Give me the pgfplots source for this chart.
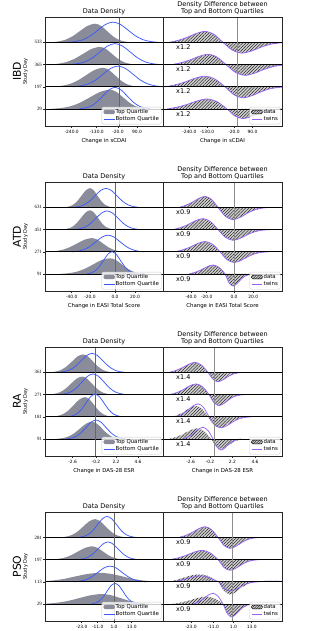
\documentclass[border=0pt]{standalone}
\usepackage{pgfplots}
\pgfplotsset{compat=1.18}
\usepackage{pgfplotstable}
\usepackage{fontspec}
\setmainfont{DejaVu Sans}
\newfontfamily\serifrm{Liberation Serif}
\usetikzlibrary{patterns.meta}

\definecolor{topgrey}{RGB}{138,141,153}
\definecolor{bottomblue}{RGB}{60,90,250}
\definecolor{twinpurple}{RGB}{150,100,245}
\definecolor{hatchgrey}{RGB}{205,205,205}

% ---------------- IBD ----------------
\pgfplotstableread[row sep=\\]{x y\\ 5 0\\ 12.5 0.8\\ 20 2.5\\ 27.5 6.1\\ 35 11.4\\ 42.5 16.5\\ 50 18.7\\ 56 16.5\\ 62 11.4\\ 68 6.1\\ 74 2.5\\ 80 0.8\\ 86 0\\}\tIBDLga
\pgfplotstableread[row sep=\\]{x y\\ 23 0\\ 30.5 0.9\\ 38 2.7\\ 45.5 6.6\\ 53 12.3\\ 60.5 17.9\\ 68 20.3\\ 75.5 17.9\\ 83 12.3\\ 90.5 6.6\\ 98 2.7\\ 105.5 0.9\\ 113 0\\}\tIBDLba
\pgfplotstableread[row sep=\\]{x y\\ 4 0\\ 12.5 0.8\\ 21 2.4\\ 29.5 5.8\\ 38 10.7\\ 46.5 15.6\\ 55 17.7\\ 61 15.6\\ 67 10.7\\ 73 5.8\\ 79 2.4\\ 85 0.8\\ 91 0\\}\tIBDLgb
\pgfplotstableread[row sep=\\]{x y\\ 25 0\\ 32.5 0.9\\ 40 2.8\\ 47.5 6.8\\ 55 12.8\\ 62.5 18.5\\ 70 21\\ 77.5 18.5\\ 85 12.8\\ 92.5 6.8\\ 100 2.8\\ 107.5 0.9\\ 115 0\\}\tIBDLbb
\pgfplotstableread[row sep=\\]{x y\\ 7 0\\ 15.5 0.8\\ 24 2.6\\ 32.5 6.2\\ 41 11.5\\ 49.5 16.8\\ 58 19\\ 64 16.8\\ 70 11.5\\ 76 6.2\\ 82 2.6\\ 88 0.8\\ 94 0\\}\tIBDLgc
\pgfplotstableread[row sep=\\]{x y\\ 28 0\\ 35.5 0.9\\ 43 2.8\\ 50.5 6.7\\ 58 12.6\\ 65.5 18.3\\ 73 20.7\\ 80.5 18.3\\ 88 12.6\\ 95.5 6.7\\ 103 2.8\\ 110.5 0.9\\ 118 0\\}\tIBDLbc
\pgfplotstableread[row sep=\\]{x y\\ 5 0\\ 15 0.9\\ 25 2.6\\ 35 6.3\\ 45 11.7\\ 55 17\\ 65 19.3\\ 71.5 17\\ 78 11.7\\ 84.5 6.3\\ 91 2.6\\ 97.5 0.9\\ 104 0\\}\tIBDLgd
\pgfplotstableread[row sep=\\]{x y\\ 34 0\\ 40 1\\ 46 2.9\\ 52 7.1\\ 58 13.2\\ 64 19.1\\ 70 21.7\\ 76 19.1\\ 82 13.2\\ 88 7.1\\ 94 2.9\\ 100 1\\ 106 0\\}\tIBDLbd
\pgfplotstableread[row sep=\\]{x y\\ 6 0\\ 15 2\\ 24 5\\ 33 8.8\\ 42 11\\ 51 8\\ 60 0\\ 69.5 -7.8\\ 79 -10.7\\ 88.5 -8.6\\ 98 -4.8\\ 107.5 -1.9\\ 117 -0.5\\ 126.5 0\\}\tIBDRa
\pgfplotstableread[row sep=\\]{x y\\ 9 0\\ 18 1.9\\ 27 4.6\\ 36 8.2\\ 45 10.3\\ 54 7.5\\ 63 0\\ 72.5 -7.8\\ 82 -10.7\\ 91.5 -8.6\\ 101 -4.8\\ 110.5 -1.9\\ 120 -0.5\\ 129.5 0\\}\tIBDRb
\pgfplotstableread[row sep=\\]{x y\\ 2 0\\ 12 1.9\\ 22 4.8\\ 32 8.5\\ 42 10.6\\ 52 7.7\\ 62 0\\ 71 -8\\ 80 -11\\ 89 -8.8\\ 98 -5\\ 107 -2\\ 116 -0.6\\ 125 0\\}\tIBDRc
\pgfplotstableread[row sep=\\]{x y\\ 4 0\\ 14 1.8\\ 24 4.5\\ 34 8\\ 44 10\\ 54 7.3\\ 64 0\\ 72 -7\\ 80 -9.6\\ 88 -7.7\\ 96 -4.3\\ 104 -1.7\\ 112 -0.5\\ 120 0\\}\tIBDRd
% ---------------- ATD ----------------
\pgfplotstableread[row sep=\\]{x y\\ 19.5 0\\ 23.8 0.9\\ 28 2.6\\ 32.3 6.3\\ 36.5 11.7\\ 40.8 17\\ 45 19.3\\ 48.8 17\\ 52.5 11.7\\ 56.3 6.3\\ 60 2.6\\ 63.8 0.9\\ 67.5 0\\}\tATDLga
\pgfplotstableread[row sep=\\]{x y\\ 28 0\\ 33.5 0.8\\ 39 2.6\\ 44.5 6.2\\ 50 11.5\\ 55.5 16.8\\ 61 19\\ 66.5 16.8\\ 72 11.5\\ 77.5 6.2\\ 83 2.6\\ 88.5 0.8\\ 94 0\\}\tATDLba
\pgfplotstableread[row sep=\\]{x y\\ 18 0\\ 22.5 0.9\\ 27 2.6\\ 31.5 6.3\\ 36 11.7\\ 40.5 17\\ 45 19.3\\ 49 17\\ 53 11.7\\ 57 6.3\\ 61 2.6\\ 65 0.9\\ 69 0\\}\tATDLgb
\pgfplotstableread[row sep=\\]{x y\\ 29 0\\ 34.5 0.8\\ 40 2.5\\ 45.5 6.1\\ 51 11.4\\ 56.5 16.5\\ 62 18.7\\ 67.5 16.5\\ 73 11.4\\ 78.5 6.1\\ 84 2.5\\ 89.5 0.8\\ 95 0\\}\tATDLbb
\pgfplotstableread[row sep=\\]{x y\\ 2 0\\ 9.5 0.6\\ 17 1.9\\ 24.5 4.5\\ 32 8.3\\ 39.5 12.1\\ 47 13.7\\ 52.5 12.1\\ 58 8.3\\ 63.5 4.5\\ 69 1.9\\ 74.5 0.6\\ 80 0\\}\tATDLgc
\pgfplotstableread[row sep=\\]{x y\\ 27 0\\ 33 0.7\\ 39 2.3\\ 45 5.4\\ 51 10.1\\ 57 14.7\\ 63 16.7\\ 69 14.7\\ 75 10.1\\ 81 5.4\\ 87 2.3\\ 93 0.7\\ 99 0\\}\tATDLbc
\pgfplotstableread[row sep=\\]{x y\\ 14 0\\ 22.5 0.7\\ 31 2.1\\ 39.5 5.1\\ 48 9.5\\ 56.5 13.9\\ 65 15.7\\ 71 13.9\\ 77 9.5\\ 83 5.1\\ 89 2.1\\ 95 0.7\\ 101 0\\}\tATDLgd
\pgfplotstableread[row sep=\\]{x y\\ 41.5 0\\ 45.8 1\\ 50 3\\ 54.3 7.3\\ 58.5 13.5\\ 62.8 19.7\\ 67 22.3\\ 71.3 19.7\\ 75.5 13.5\\ 79.8 7.3\\ 84 3\\ 88.3 1\\ 92.5 0\\}\tATDLbd
\pgfplotstableread[row sep=\\]{x y\\ 16 0\\ 22.5 2\\ 29 5\\ 35.5 8.8\\ 42 11\\ 48.5 8\\ 55 0\\ 62.5 -9\\ 70 -12.3\\ 77.5 -9.8\\ 85 -5.5\\ 92.5 -2.2\\ 100 -0.6\\ 107.5 0\\}\tATDRa
\pgfplotstableread[row sep=\\]{x y\\ 10 0\\ 17.5 2\\ 25 5\\ 32.5 8.8\\ 40 11\\ 47.5 8\\ 55 0\\ 62.5 -7.8\\ 70 -10.7\\ 77.5 -8.6\\ 85 -4.8\\ 92.5 -1.9\\ 100 -0.5\\ 107.5 0\\}\tATDRb
\pgfplotstableread[row sep=\\]{x y\\ 12 0\\ 19.5 1.9\\ 27 4.6\\ 34.5 8.2\\ 42 10.3\\ 49.5 7.5\\ 57 0\\ 64 -7.8\\ 71 -10.7\\ 78 -8.6\\ 85 -4.8\\ 92 -1.9\\ 99 -0.5\\ 106 0\\}\tATDRc
\pgfplotstableread[row sep=\\]{x y\\ 26 0\\ 32 1.6\\ 38 4.1\\ 44 7.2\\ 50 9\\ 56 6.6\\ 62 0\\ 66 -8.8\\ 70 -12\\ 74 -9.6\\ 78 -5.4\\ 82 -2.2\\ 86 -0.6\\ 90 0\\}\tATDRd
% ---------------- RA ----------------
\pgfplotstableread[row sep=\\]{x y\\ 5 0\\ 10.5 0.8\\ 16 2.4\\ 21.5 5.9\\ 27 10.9\\ 32.5 15.9\\ 38 18\\ 43 15.9\\ 48 10.9\\ 53 5.9\\ 58 2.4\\ 63 0.8\\ 68 0\\}\tRALga
\pgfplotstableread[row sep=\\]{x y\\ 14 0\\ 19.5 0.8\\ 25 2.6\\ 30.5 6.2\\ 36 11.5\\ 41.5 16.8\\ 47 19\\ 52.5 16.8\\ 58 11.5\\ 63.5 6.2\\ 69 2.6\\ 74.5 0.8\\ 80 0\\}\tRALba
\pgfplotstableread[row sep=\\]{x y\\ 4 0\\ 9.5 0.8\\ 15 2.4\\ 20.5 5.9\\ 26 10.9\\ 31.5 15.9\\ 37 18\\ 42 15.9\\ 47 10.9\\ 52 5.9\\ 57 2.4\\ 62 0.8\\ 67 0\\}\tRALgb
\pgfplotstableread[row sep=\\]{x y\\ 15 0\\ 20.5 0.9\\ 26 2.8\\ 31.5 6.7\\ 37 12.6\\ 42.5 18.3\\ 48 20.7\\ 53.5 18.3\\ 59 12.6\\ 64.5 6.7\\ 70 2.8\\ 75.5 0.9\\ 81 0\\}\tRALbb
\pgfplotstableread[row sep=\\]{x y\\ 7 0\\ 12.5 0.9\\ 18 2.7\\ 23.5 6.4\\ 29 12\\ 34.5 17.4\\ 40 19.7\\ 44.5 17.4\\ 49 12\\ 53.5 6.4\\ 58 2.7\\ 62.5 0.9\\ 67 0\\}\tRALgc
\pgfplotstableread[row sep=\\]{x y\\ 23 0\\ 27.5 1\\ 32 3.1\\ 36.5 7.4\\ 41 13.8\\ 45.5 20\\ 50 22.7\\ 54.5 20\\ 59 13.8\\ 63.5 7.4\\ 68 3.1\\ 72.5 1\\ 77 0\\}\tRALbc
\pgfplotstableread[row sep=\\]{x y\\ 11 0\\ 17 0.8\\ 23 2.3\\ 29 5.6\\ 35 10.5\\ 41 15.3\\ 47 17.3\\ 52 15.3\\ 57 10.5\\ 62 5.6\\ 67 2.3\\ 72 0.8\\ 77 0\\}\tRALgd
\pgfplotstableread[row sep=\\]{x y\\ 21 0\\ 26 0.8\\ 31 2.6\\ 36 6.2\\ 41 11.5\\ 46 16.8\\ 51 19\\ 56 16.8\\ 61 11.5\\ 66 6.2\\ 71 2.6\\ 76 0.8\\ 81 0\\}\tRALbd
\pgfplotstableread[row sep=\\]{x y\\ 6 0\\ 12.5 1.8\\ 19 4.5\\ 25.5 8\\ 32 10\\ 38.5 7.3\\ 45 0\\ 50 -6.8\\ 55 -9.3\\ 60 -7.4\\ 65 -4.2\\ 70 -1.7\\ 75 -0.5\\ 80 0\\}\tRARa
\pgfplotstableread[row sep=\\]{x y\\ 7 0\\ 13.5 1.9\\ 20 4.8\\ 26.5 8.6\\ 33 10.7\\ 39.5 7.8\\ 46 0\\ 51 -8\\ 56 -11\\ 61 -8.8\\ 66 -5\\ 71 -2\\ 76 -0.6\\ 81 0\\}\tRARb
\pgfplotstableread[row sep=\\]{x y\\ 9 0\\ 15 2\\ 21 5\\ 27 8.8\\ 33 11\\ 39 8\\ 45 0\\ 51 -8.3\\ 57 -11.3\\ 63 -9\\ 69 -5.1\\ 75 -2\\ 81 -0.6\\ 87 0\\}\tRARcd
\pgfplotstableread[row sep=\\]{x y\\ 13 0\\ 18.5 2.3\\ 24 5.9\\ 29.5 10.4\\ 35 13\\ 40.5 9.5\\ 46 0\\ 52 -8\\ 58 -11\\ 64 -8.8\\ 70 -5\\ 76 -2\\ 82 -0.6\\ 88 0\\}\tRARct
\pgfplotstableread[row sep=\\]{x y\\ 6 0\\ 13 1.9\\ 20 4.8\\ 27 8.6\\ 34 10.7\\ 41 7.8\\ 48 0\\ 53 -7.3\\ 58 -10\\ 63 -8\\ 68 -4.5\\ 73 -1.8\\ 78 -0.5\\ 83 0\\}\tRARdd
\pgfplotstableread[row sep=\\]{x y\\ 20 0\\ 25 2.1\\ 30 5.3\\ 35 9.4\\ 40 11.7\\ 45 8.5\\ 50 0\\ 54 -8\\ 58 -11\\ 62 -8.8\\ 66 -5\\ 70 -2\\ 74 -0.6\\ 78 0\\}\tRARdt
% ---------------- PSO ----------------
\pgfplotstableread[row sep=\\]{x y\\ 15.5 0\\ 21.3 0.8\\ 27 2.5\\ 32.8 6\\ 38.5 11.1\\ 44.3 16.1\\ 50 18.3\\ 55.3 16.1\\ 60.5 11.1\\ 65.8 6\\ 71 2.5\\ 76.3 0.8\\ 81.5 0\\}\tPSOLga
\pgfplotstableread[row sep=\\]{x y\\ 33.5 0\\ 38.3 0.9\\ 43 2.8\\ 47.8 6.8\\ 52.5 12.8\\ 57.3 18.5\\ 62 21\\ 66.8 18.5\\ 71.5 12.8\\ 76.3 6.8\\ 81 2.8\\ 85.8 0.9\\ 90.5 0\\}\tPSOLba
\pgfplotstableread[row sep=\\]{x y\\ 5 0\\ 12 0.6\\ 19 1.8\\ 26 4.3\\ 33 8.1\\ 40 11.7\\ 47 13.3\\ 52.5 11.7\\ 58 8.1\\ 63.5 4.3\\ 69 1.8\\ 74.5 0.6\\ 80 0\\}\tPSOLgb
\pgfplotstableread[row sep=\\]{x y\\ 33 0\\ 38 0.8\\ 43 2.4\\ 48 5.8\\ 53 10.7\\ 58 15.6\\ 63 17.7\\ 68 15.6\\ 73 10.7\\ 78 5.8\\ 83 2.4\\ 88 0.8\\ 93 0\\}\tPSOLbb
\pgfplotstableread[row sep=\\]{x y\\ -17 0\\ -5 0.4\\ 7 1.2\\ 19 2.9\\ 31 5.5\\ 43 7.9\\ 55 9\\ 66 7.9\\ 77 5.5\\ 88 2.9\\ 99 1.2\\ 110 0.4\\ 121 0\\}\tPSOLgc
\pgfplotstableread[row sep=\\]{x y\\ 29 0\\ 35 0.7\\ 41 2.1\\ 47 5.1\\ 53 9.5\\ 59 13.9\\ 65 15.7\\ 71 13.9\\ 77 9.5\\ 83 5.1\\ 89 2.1\\ 95 0.7\\ 101 0\\}\tPSOLbc
\pgfplotstableread[row sep=\\]{x y\\ -9 0\\ 2 0.4\\ 13 1.4\\ 24 3.3\\ 35 6.1\\ 46 8.8\\ 57 10\\ 66 8.8\\ 75 6.1\\ 84 3.3\\ 93 1.4\\ 102 0.4\\ 111 0\\}\tPSOLgd
\pgfplotstableread[row sep=\\]{x y\\ 46 0\\ 50 0.9\\ 54 2.8\\ 58 6.7\\ 62 12.6\\ 66 18.3\\ 70 20.7\\ 74 18.3\\ 78 12.6\\ 82 6.7\\ 86 2.8\\ 90 0.9\\ 94 0\\}\tPSOLbd
\pgfplotstableread[row sep=\\]{x y\\ 16 0\\ 22.5 1.9\\ 29 4.8\\ 35.5 8.6\\ 42 10.7\\ 48.5 7.8\\ 55 0\\ 61 -8\\ 67 -11\\ 73 -8.8\\ 79 -5\\ 85 -2\\ 91 -0.6\\ 97 0\\}\tPSORa
\pgfplotstableread[row sep=\\]{x y\\ 7 0\\ 15 1.7\\ 23 4.2\\ 31 7.4\\ 39 9.3\\ 47 6.8\\ 55 0\\ 61 -7.8\\ 67 -10.7\\ 73 -8.6\\ 79 -4.8\\ 85 -1.9\\ 91 -0.5\\ 97 0\\}\tPSORb
\pgfplotstableread[row sep=\\]{x y\\ 5 0\\ 12 1.5\\ 20 4\\ 28 6.3\\ 35 7.3\\ 42 6.8\\ 49 4\\ 55 0\\ 61 -9\\ 67 -12.7\\ 73 -10\\ 79 -5.5\\ 85 -2\\ 92 0\\ 100 0.8\\ 110 1\\ 119 0.6\\}\tPSORcd
\pgfplotstableread[row sep=\\]{x y\\ 10 0\\ 18 1.5\\ 26 3.8\\ 34 5.6\\ 40 5.7\\ 46 4\\ 52 1.5\\ 56 0\\ 61 -6.5\\ 67 -9\\ 73 -7.5\\ 79 -4\\ 86 -1.2\\ 95 0\\ 105 0.5\\ 119 0.6\\}\tPSORct
\pgfplotstableread[row sep=\\]{x y\\ 9 0\\ 17.5 1.4\\ 26 3.4\\ 34.5 6\\ 43 7.5\\ 51.5 5.5\\ 60 0\\ 64.5 -9.1\\ 69 -12.5\\ 73.5 -10\\ 78 -5.6\\ 82.5 -2.3\\ 87 -0.6\\ 91.5 0\\}\tPSORdd
\pgfplotstableread[row sep=\\]{x y\\ 30 0\\ 35 1.9\\ 40 4.8\\ 45 8.6\\ 50 10.7\\ 55 7.8\\ 60 0\\ 64.3 -9.5\\ 68.5 -13\\ 72.8 -10.4\\ 77 -5.9\\ 81.3 -2.3\\ 85.5 -0.7\\ 89.8 0\\}\tPSORdt

\newcommand{\ttl}{\fontsize{6.5}{7}\selectfont}
\newcommand{\lab}{\fontsize{5.4}{6.5}\selectfont}

\newcommand{\gfill}[2]{\addplot[fill=topgrey, draw=none, smooth, forget plot] table[x=x, y expr=\thisrow{y}+#1]{#2};}
\newcommand{\blueline}[2]{\addplot[bottomblue, line width=0.75pt, smooth, forget plot] table[x=x, y expr=\thisrow{y}+#1]{#2};}
\newcommand{\hatchfill}[2]{\addplot[fill=hatchgrey, draw=none, smooth, forget plot, postaction={pattern={Lines[angle=45,distance=2.2pt,line width=0.35pt]}, pattern color=black}] table[x=x, y expr=\thisrow{y}+#1]{#2};}
\newcommand{\twin}[2]{\addplot[twinpurple, line width=0.75pt, smooth, forget plot] table[x=x, y expr=\thisrow{y}+#1]{#2};}
\newcommand{\baseln}[1]{\addplot[black, line width=0.8pt, forget plot] coordinates {(-5,#1) (125,#1)};}
\newcommand{\vmark}[2]{\addplot[#2, line width=0.5pt, forget plot] coordinates {(#1,-17) (#1,92)};}
\newcommand{\xlab}[2]{\node[anchor=west, font=\ttl, inner sep=0pt] at (axis cs:13,#1) {#2};}

\newcommand{\leftlegend}{%
\addlegendimage{legend image code/.code={\fill[topgrey, fill opacity=1] (0pt,-1.9pt) rectangle (10.8pt,1.9pt);}}
\addlegendentry{Top Quartile}
\addlegendimage{legend image code/.code={\draw[bottomblue, line width=0.75pt, draw opacity=1] (0pt,0pt) -- (10.8pt,0pt);}}
\addlegendentry{Bottom Quartile}}
\newcommand{\rightlegend}{%
\addlegendimage{legend image code/.code={\fill[hatchgrey, fill opacity=1] (0pt,-1.9pt) rectangle (10.8pt,1.9pt); \fill[pattern={Lines[angle=45,distance=1.8pt,line width=0.35pt]}, pattern color=black, fill opacity=1] (0pt,-1.9pt) rectangle (10.8pt,1.9pt);}}
\addlegendentry{data}
\addlegendimage{legend image code/.code={\draw[twinpurple, line width=0.75pt, draw opacity=1] (0pt,0pt) -- (10.8pt,0pt);}}
\addlegendentry{twins}}

\pgfplotsset{
  ridge/.style={scale only axis, height=109pt, ymin=-17, ymax=92, xmin=0, anchor=north west,
    axis on top, axis line style={black!85, line width=0.45pt},
    every tick/.style={black!85, line width=0.45pt}, major tick length=1.9pt, tick align=outside,
    xtick pos=bottom, ytick pos=left,
    xticklabel style={font=\fontsize{4.4}{5}\selectfont, inner sep=1pt, yshift=-0.8pt},
    legend cell align=left,
    legend style={at={(1,0)}, anchor=south east, xshift=-1.6pt, yshift=1.6pt,
      font=\fontsize{5.4}{6}\selectfont, draw=black!20, line width=0.4pt, rounded corners=1.2pt,
      fill=white, fill opacity=0.8, text opacity=1, inner xsep=1.5pt, inner ysep=1.2pt,
      row sep=0.2pt, nodes={inner sep=0.8pt}}},
  leftax/.style={ridge, width=118pt, xmax=118, ytick={0,22.2,44.4,66.6},
    yticklabel style={font=\fontsize{4.9}{5.5}\serifrm, inner sep=1pt}},
  rightax/.style={ridge, width=119pt, xmax=119, ytick=\empty},
}

\begin{document}
\begin{tikzpicture}
\useasboundingbox (0pt,0pt) rectangle (314pt,631pt);

% ================= IBD =================
\begin{axis}[leftax, at={(45pt,614pt)}, xtick={26.7,51.7,73,92}, xticklabels={-240.0,-130.0,-20.0,90.0}, yticklabels={29,197,365,533}]
\gfill{66.6}{\tIBDLga}\blueline{66.6}{\tIBDLba}\baseln{66.6}
\gfill{44.4}{\tIBDLgb}\blueline{44.4}{\tIBDLbb}\baseln{44.4}
\gfill{22.2}{\tIBDLgc}\blueline{22.2}{\tIBDLbc}\baseln{22.2}
\gfill{0}{\tIBDLgd}\blueline{0}{\tIBDLbd}\baseln{0}
\vmark{74}{black!60}
\leftlegend
\end{axis}
\begin{axis}[rightax, at={(163pt,614pt)}, xtick={26.4,44.2,71,89.5}, xticklabels={-240.0,-130.0,-20.0,90.0}]
\hatchfill{66.6}{\tIBDRa}\twin{66.6}{\tIBDRa}\baseln{66.6}\xlab{61.9}{x1.2}
\hatchfill{44.4}{\tIBDRb}\twin{44.4}{\tIBDRb}\baseln{44.4}\xlab{39.7}{x1.2}
\hatchfill{22.2}{\tIBDRc}\twin{22.2}{\tIBDRc}\baseln{22.2}\xlab{17.5}{x1.2}
\hatchfill{0}{\tIBDRd}\twin{0}{\tIBDRd}\baseln{0}\xlab{-4.7}{x1.2}
\vmark{74.5}{black!45}
\rightlegend
\end{axis}

% ================= ATD =================
\begin{axis}[leftax, at={(45pt,449pt)}, xtick={26.7,45,70,90}, xticklabels={-40.0,-20.0,0.0,20.0}, yticklabels={91,271,451,631}]
\gfill{66.6}{\tATDLga}\blueline{66.6}{\tATDLba}\baseln{66.6}
\gfill{44.4}{\tATDLgb}\blueline{44.4}{\tATDLbb}\baseln{44.4}
\gfill{22.2}{\tATDLgc}\blueline{22.2}{\tATDLbc}\baseln{22.2}
\gfill{0}{\tATDLgd}\blueline{0}{\tATDLbd}\baseln{0}
\vmark{70}{black!60}
\leftlegend
\end{axis}
\begin{axis}[rightax, at={(163pt,449pt)}, xtick={28,43.7,71,90.3}, xticklabels={-40.0,-20.0,0.0,20.0}]
\hatchfill{66.6}{\tATDRa}\twin{66.6}{\tATDRa}\baseln{66.6}\xlab{61.9}{x0.9}
\hatchfill{44.4}{\tATDRb}\twin{44.4}{\tATDRb}\baseln{44.4}\xlab{39.7}{x0.9}
\hatchfill{22.2}{\tATDRc}\twin{22.2}{\tATDRc}\baseln{22.2}\xlab{17.5}{x0.9}
\hatchfill{0}{\tATDRd}\twin{0}{\tATDRd}\baseln{0}\xlab{-4.7}{x0.9}
\vmark{71}{black!45}
\rightlegend
\end{axis}

% ================= RA =================
\begin{axis}[leftax, at={(45pt,284pt)}, xtick={27.7,51,71,93}, xticklabels={-2.6,-0.2,2.2,4.6}, yticklabels={91,181,271,361}]
\gfill{66.6}{\tRALga}\blueline{66.6}{\tRALba}\baseln{66.6}
\gfill{44.4}{\tRALgb}\blueline{44.4}{\tRALbb}\baseln{44.4}
\gfill{22.2}{\tRALgc}\blueline{22.2}{\tRALbc}\baseln{22.2}
\gfill{0}{\tRALgd}\blueline{0}{\tRALbd}\baseln{0}
\vmark{50}{black!60}
\leftlegend
\end{axis}
\begin{axis}[rightax, at={(163pt,284pt)}, xtick={27.7,47,69.3,92}, xticklabels={-2.6,-0.2,2.2,4.6}]
\hatchfill{66.6}{\tRARa}\twin{66.6}{\tRARa}\baseln{66.6}\xlab{61.9}{x1.4}
\hatchfill{44.4}{\tRARb}\twin{44.4}{\tRARb}\baseln{44.4}\xlab{39.7}{x1.4}
\hatchfill{22.2}{\tRARcd}\twin{22.2}{\tRARct}\baseln{22.2}\xlab{17.5}{x1.4}
\hatchfill{0}{\tRARdd}\twin{0}{\tRARdt}\baseln{0}\xlab{-4.7}{x1.4}
\vmark{51.3}{black!45}
\rightlegend
\end{axis}

% ================= PSO =================
\begin{axis}[leftax, at={(45pt,119pt)}, xtick={36.7,52.7,69,86.7}, xticklabels={-23.0,-11.0,1.0,13.0}, yticklabels={29,113,197,281}]
\gfill{66.6}{\tPSOLga}\blueline{66.6}{\tPSOLba}\baseln{66.6}
\gfill{44.4}{\tPSOLgb}\blueline{44.4}{\tPSOLbb}\baseln{44.4}
\gfill{22.2}{\tPSOLgc}\blueline{22.2}{\tPSOLbc}\baseln{22.2}
\gfill{0}{\tPSOLgd}\blueline{0}{\tPSOLbd}\baseln{0}
\vmark{69}{black!60}
\leftlegend
\end{axis}
\begin{axis}[rightax, at={(163pt,119pt)}, xtick={28,50.3,70.3,88.7}, xticklabels={-23.0,-11.0,1.0,13.0}]
\hatchfill{66.6}{\tPSORa}\twin{66.6}{\tPSORa}\baseln{66.6}\xlab{61.9}{x0.9}
\hatchfill{44.4}{\tPSORb}\twin{44.4}{\tPSORb}\baseln{44.4}\xlab{39.7}{x0.9}
\hatchfill{22.2}{\tPSORcd}\twin{22.2}{\tPSORct}\baseln{22.2}\xlab{17.5}{x0.9}
\hatchfill{0}{\tPSORdd}\twin{0}{\tPSORdt}\baseln{0}\xlab{-4.7}{x0.9}
\vmark{69.7}{black!45}
\rightlegend
\end{axis}

% ================= texts =================
\node[font=\ttl] at (104pt,619pt) {Data Density};
\node[font=\ttl] at (104pt,454pt) {Data Density};
\node[font=\ttl] at (104pt,289pt) {Data Density};
\node[font=\ttl] at (104pt,124pt) {Data Density};
\node[font=\ttl, align=center] at (222.5pt,622.3pt) {Density Difference between\\Top and Bottom Quartiles};
\node[font=\ttl, align=center] at (222.5pt,457.3pt) {Density Difference between\\Top and Bottom Quartiles};
\node[font=\ttl, align=center] at (222.5pt,292.3pt) {Density Difference between\\Top and Bottom Quartiles};
\node[font=\ttl, align=center] at (222.5pt,127.3pt) {Density Difference between\\Top and Bottom Quartiles};
\node[font=\lab] at (104pt,490pt) {Change in sCDAI};
\node[font=\lab] at (222.5pt,490pt) {Change in sCDAI};
\node[font=\lab] at (104pt,325pt) {Change in EASI Total Score};
\node[font=\lab] at (222.5pt,325pt) {Change in EASI Total Score};
\node[font=\lab] at (104pt,160pt) {Change in DAS-28 ESR};
\node[font=\lab] at (222.5pt,160pt) {Change in DAS-28 ESR};
\node[rotate=90, font=\fontsize{10.8}{12}\selectfont] at (17pt,559.5pt) {IBD};
\node[rotate=90, font=\fontsize{10.8}{12}\selectfont] at (17pt,394.5pt) {ATD};
\node[rotate=90, font=\fontsize{10.8}{12}\selectfont] at (17pt,229.5pt) {RA};
\node[rotate=90, font=\fontsize{10.8}{12}\selectfont] at (17pt,64.5pt) {PSO};
\node[rotate=90, font=\fontsize{5}{6}\selectfont] at (25.5pt,559.5pt) {Study Day};
\node[rotate=90, font=\fontsize{5}{6}\selectfont] at (25.5pt,394.5pt) {Study Day};
\node[rotate=90, font=\fontsize{5}{6}\selectfont] at (25.5pt,229.5pt) {Study Day};
\node[rotate=90, font=\fontsize{5}{6}\selectfont] at (25.5pt,64.5pt) {Study Day};
\end{tikzpicture}
\end{document}
